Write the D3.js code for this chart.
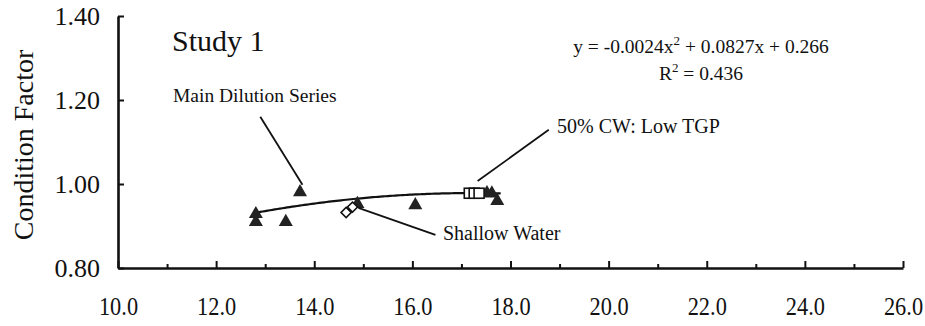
<!DOCTYPE html>
<html>
<head>
<meta charset="utf-8">
<script src="https://cdn.jsdelivr.net/npm/d3@7"></script>
<style>
  body { margin: 0; background: #fff; }
</style>
</head>
<body>
<div id="chart"></div>
<script>
// Main dilution series (triangles)
const mainX = [12.81, 12.81, 13.42, 13.71, 14.88, 16.06, 17.52, 17.62, 17.73];
const mainY = [0.931, 0.912, 0.912, 0.983, 0.955, 0.952, 0.981, 0.980, 0.962];
// 50% CW: Low TGP (open squares)
const cwX = [17.16, 17.26, 17.36];
const cwY = [0.978, 0.978, 0.978];
// Shallow water (open diamonds)
const shallowX = [14.65, 14.78];
const shallowY = [0.932, 0.945];
// trendline: y = a x^2 + b x + c
const trendCoef = [-0.0024, 0.0827, 0.266];
const trendRange = [12.8, 17.8];
// axes
const xTicksMajor = [10, 12, 14, 16, 18, 20, 22, 24, 26];
const xTicksMinor = [11, 13, 15, 17, 19, 21, 23, 25];
const yTicks = [0.8, 1.0, 1.2, 1.4];

const serif = "'Liberation Serif', Tinos, 'Times New Roman', Times, 'DejaVu Serif', serif";

const width = 925, height = 326;
const svg = d3.select("#chart").append("svg")
    .attr("width", width)
    .attr("height", height)
    .style("font-family", serif);

const x = d3.scaleLinear().domain([10, 26]).range([118, 903]);
const y = d3.scaleLinear().domain([0.8, 1.4]).range([268, 16]);

//x axis - minor ticks
svg.append("g")
    .attr("transform", "translate(0," + y(0.8) + ")")
    .call(d3.axisBottom(x).tickValues(xTicksMinor).tickSizeInner(-4).tickSizeOuter(0).tickFormat(""))
    .call(g => g.select(".domain").remove())
    .selectAll("line").attr("stroke", "#111").attr("stroke-width", 2);

//x axis - major ticks + labels
let xAxis = svg.append("g")
    .attr("transform", "translate(0," + y(0.8) + ")")
    .call(d3.axisBottom(x).tickValues(xTicksMajor).tickSizeInner(-7).tickSizeOuter(0)
        .tickPadding(29).tickFormat(d3.format(".1f")));
xAxis.attr("font-family", null);
xAxis.select(".domain").attr("stroke", "#111").attr("stroke-width", 2.6);
xAxis.selectAll("line").attr("stroke", "#111").attr("stroke-width", 2);
xAxis.selectAll("text")
    .style("font-family", serif)
    .style("font-size", "26px")
    .attr("fill", "#111")
    .attr("transform", "scale(0.86,1)");

//y axis
let yAxis = svg.append("g")
    .attr("transform", "translate(" + x(10) + ",0)")
    .call(d3.axisLeft(y).tickValues(yTicks).tickSizeInner(-6).tickSizeOuter(0)
        .tickPadding(18).tickFormat(d3.format(".2f")));
yAxis.attr("font-family", null);
yAxis.select(".domain").attr("stroke", "#111").attr("stroke-width", 2.6);
yAxis.selectAll("line").attr("stroke", "#111").attr("stroke-width", 2);
yAxis.selectAll("text")
    .style("font-family", serif)
    .style("font-size", "26px")
    .attr("fill", "#111");

//y title
svg.append("text")
    .attr("transform", "translate(33,145) rotate(-90)")
    .attr("text-anchor", "middle")
    .style("font-size", "28px")
    .text("Condition Factor");

//trendline
let line = d3.line().x(d => x(d)).y(d => y(trendCoef[0] * d * d + trendCoef[1] * d + trendCoef[2]));
let xs = d3.range(trendRange[0], trendRange[1] + 0.001, 0.05);
svg.append("path")
    .datum(xs)
    .attr("d", line)
    .attr("fill", "none")
    .attr("stroke", "#111")
    .attr("stroke-width", 2.2);

//markers
let tri = d3.symbol(d3.symbolTriangle, 85);
svg.append("g").selectAll("path")
    .data(d3.zip(mainX, mainY))
    .join("path")
    .attr("d", tri)
    .attr("transform", d => "translate(" + x(d[0]) + "," + (y(d[1]) + 1) + ")")
    .attr("fill", "#222");

svg.append("g").selectAll("rect")
    .data(d3.zip(cwX, cwY))
    .join("rect")
    .attr("x", d => x(d[0]) - 5)
    .attr("y", d => y(d[1]) - 5)
    .attr("width", 10)
    .attr("height", 10)
    .attr("fill", "#fff")
    .attr("stroke", "#111")
    .attr("stroke-width", 1.6);

svg.append("g").selectAll("rect")
    .data(d3.zip(shallowX, shallowY))
    .join("rect")
    .attr("x", -3.6)
    .attr("y", -3.6)
    .attr("width", 7.2)
    .attr("height", 7.2)
    .attr("transform", d => "translate(" + x(d[0]) + "," + y(d[1]) + ") rotate(45)")
    .attr("fill", "#fff")
    .attr("stroke", "#111")
    .attr("stroke-width", 1.6);

//annotations (leader lines in data units)
const leaders = [
    [[12.90, 1.160], [13.76, 0.998]],
    [[17.33, 1.007], [18.78, 1.129]],
    [[14.90, 0.943], [16.47, 0.879]]
];
svg.append("g").selectAll("line")
    .data(leaders)
    .join("line")
    .attr("x1", d => x(d[0][0])).attr("y1", d => y(d[0][1]))
    .attr("x2", d => x(d[1][0])).attr("y2", d => y(d[1][1]))
    .attr("stroke", "#111")
    .attr("stroke-width", 1.8);

svg.append("text").attr("x", 172).attr("y", 51).style("font-size", "30px").text("Study 1");
svg.append("text").attr("x", 173).attr("y", 102).style("font-size", "19.5px").text("Main Dilution Series");
svg.append("text").attr("x", 557).attr("y", 133).style("font-size", "20px").text("50% CW: Low TGP");
svg.append("text").attr("x", 443).attr("y", 240).style("font-size", "20px").text("Shallow Water");

//equation
let eq = svg.append("text").attr("x", 701).attr("y", 53).style("font-size", "19.5px").attr("text-anchor", "middle");
eq.append("tspan").text("y = -0.0024x");
eq.append("tspan").attr("dy", -8).style("font-size", "13px").text("2");
eq.append("tspan").attr("dy", 8).text(" + 0.0827x + 0.266");

let r2 = svg.append("text").attr("x", 701).attr("y", 80).style("font-size", "19.5px").attr("text-anchor", "middle");
r2.append("tspan").text("R");
r2.append("tspan").attr("dy", -8).style("font-size", "13px").text("2");
r2.append("tspan").attr("dy", 8).text(" = 0.436");

svg.selectAll("text").attr("fill", "#111");
</script>
</body>
</html>
